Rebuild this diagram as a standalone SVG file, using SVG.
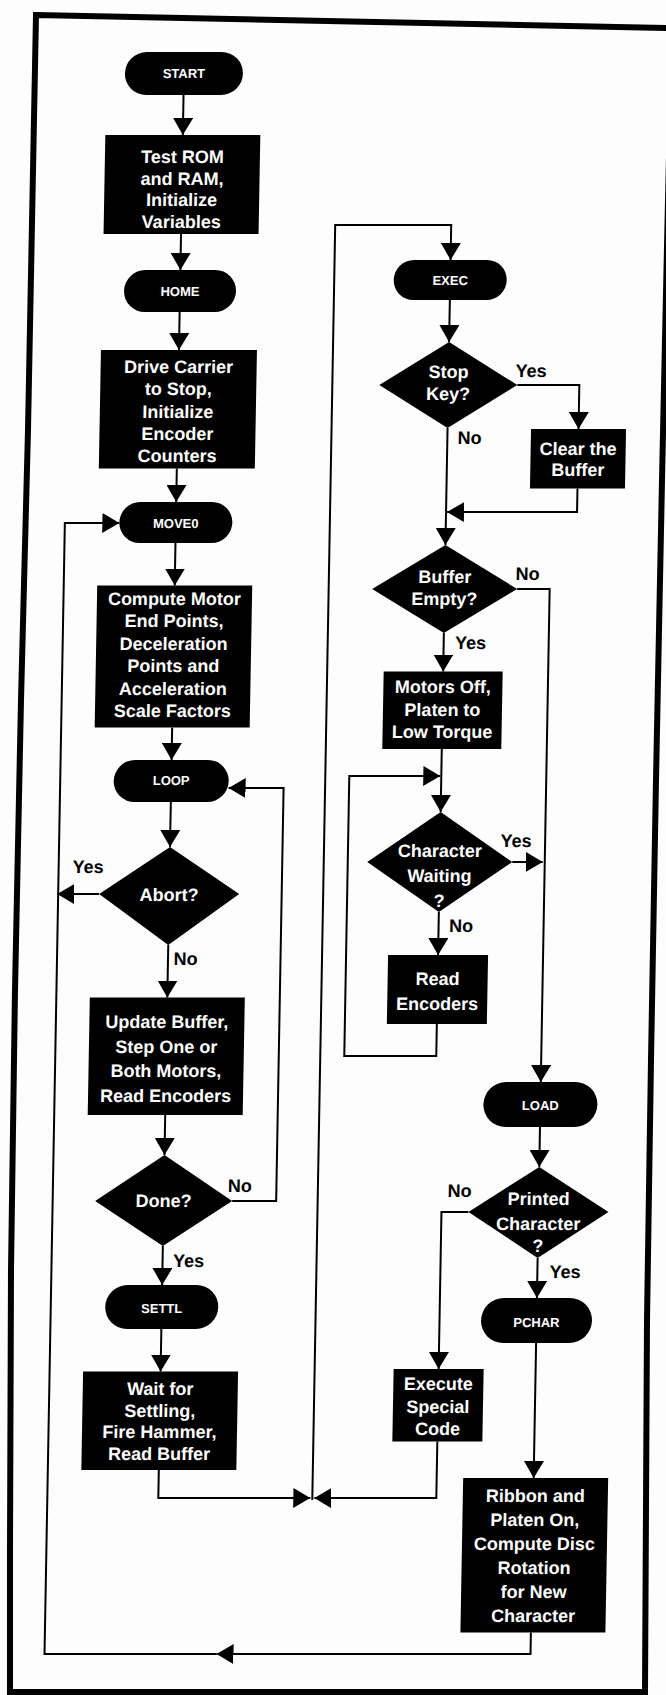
<svg xmlns="http://www.w3.org/2000/svg" width="666" height="1695" viewBox="0 0 666 1695">
<style>
.n rect, .n polygon { fill: #000; }
.n text { fill: #fff; font-family: "Liberation Sans", Arial, sans-serif; font-weight: bold; font-size: 18px; text-anchor: middle; }
.n text.t { font-size: 13px; }
.c path { fill: none; stroke: #000; stroke-width: 2; marker-end: url(#ah); }
.c path.p { marker-end: none; }
.lbl { fill: #000; font-family: "Liberation Sans", Arial, sans-serif; font-weight: bold; font-size: 18px; text-anchor: middle; }
.frame { fill: none; stroke: #000; stroke-width: 6; stroke-linejoin: miter; }
</style>
<defs>
<marker id="ah" markerWidth="18" markerHeight="20" refX="17" refY="10" orient="auto" markerUnits="userSpaceOnUse">
<path d="M0,0 L17,10 L0,20 z" fill="#000"/>
</marker>
</defs>
<rect x="0" y="0" width="666" height="1695" fill="#fdfdfd"/>
<path class="frame" d="M36,15 L672,28 L668,200 L662,480 L656,780 L651,1060 L647,1320 L645,1692 L10,1692 L10,1550 L11,1270 L15,990 L21,700 L28,430 Z"/>
<g transform="translate(15.25,0) skewX(-1.03)">
<g id="connectors" class="c">
<path d="M170,95 V135"/>
<path d="M170,234 V270"/>
<path d="M170,312 V350"/>
<path d="M170,468.5 V502"/>
<path d="M170,543 V585.5"/>
<path d="M170,727.5 V760"/>
<path d="M170,802 V847"/>
<path d="M170,945 V997.5"/>
<path d="M100,894 H58"/>
<path d="M170,1115 V1155"/>
<path d="M238.5,1201 H282.5 V788 H227.5"/>
<path d="M170,1246 V1285"/>
<path d="M170,1329 V1371.5"/>
<path d="M170,1470 V1498 H322"/>
<path d="M448,1441.5 V1498 H326"/>
<path d="M324,1500 V225 H440 V260"/>
<path d="M440,300 V342"/>
<path d="M509,385 H571 V429"/>
<path d="M571,488.5 V512 H441"/>
<path d="M440,428 V545"/>
<path d="M440,633 V671.5"/>
<path d="M512.5,589 H545 V1082"/>
<path d="M440,749 V812"/>
<path d="M440,1024 V1056 H348 V776 H439"/>
<path d="M512.5,862 H543"/>
<path d="M440,912 V955"/>
<path d="M545,1127 V1167"/>
<path d="M545,1258 V1298"/>
<path d="M475,1212 H448 V1369"/>
<path d="M545,1343 V1478"/>
<path d="M545,1632.5 V1654 H231"/>
<path d="M231,1654 H59 V523 H113.5"/>
<text class="lbl" x="88.5" y="873">Yes</text>
<text class="lbl" x="187.6" y="965">No</text>
<text class="lbl" x="246" y="1192">No</text>
<text class="lbl" x="196" y="1267">Yes</text>
<text class="lbl" x="522.6" y="377">Yes</text>
<text class="lbl" x="462.3" y="444">No</text>
<text class="lbl" x="522.7" y="580">No</text>
<text class="lbl" x="467" y="649">Yes</text>
<text class="lbl" x="516" y="847">Yes</text>
<text class="lbl" x="462.5" y="932">No</text>
<text class="lbl" x="465.8" y="1197">No</text>
<text class="lbl" x="572.8" y="1278">Yes</text>
</g>
<g id="start" class="n"><rect x="111" y="52" width="118" height="43" rx="21.5"/><text class="t" x="170" y="78">START</text></g>
<g id="init" class="n"><rect x="92.5" y="135" width="155" height="99"/><text x="170" y="163">Test ROM</text><text x="170" y="184.7">and RAM,</text><text x="170" y="206.4">Initialize</text><text x="170" y="228">Variables</text></g>
<g id="home" class="n"><rect x="114" y="270" width="112" height="42" rx="21"/><text class="t" x="170" y="296">HOME</text></g>
<g id="drive" class="n"><rect x="92" y="350" width="156" height="118.5"/><text x="170" y="373">Drive Carrier</text><text x="170" y="395">to Stop,</text><text x="170" y="418">Initialize</text><text x="170" y="440">Encoder</text><text x="170" y="462">Counters</text></g>
<g id="move0" class="n"><rect x="113.5" y="502" width="113" height="41" rx="20.5"/><text class="t" x="170" y="528">MOVE0</text></g>
<g id="compute" class="n"><rect x="92.5" y="585.5" width="155" height="142"/><text x="170" y="605">Compute Motor</text><text x="170" y="627.4">End Points,</text><text x="170" y="649.8">Deceleration</text><text x="170" y="672.2">Points and</text><text x="170" y="694.6">Acceleration</text><text x="170" y="717">Scale Factors</text></g>
<g id="loop" class="n"><rect x="112.5" y="760" width="115" height="42" rx="21"/><text class="t" x="170" y="785.5">LOOP</text></g>
<g id="abort" class="n"><polygon points="100,894 170,847 240,894 170,945"/><text x="170" y="901">Abort?</text></g>
<g id="update" class="n"><rect x="92.5" y="997.5" width="155" height="117.5"/><text x="170" y="1028">Update Buffer,</text><text x="170" y="1052.7">Step One or</text><text x="170" y="1077.3">Both Motors,</text><text x="170" y="1102">Read Encoders</text></g>
<g id="done" class="n"><polygon points="101.5,1201 170,1155 238.5,1201 170,1246"/><text x="170" y="1207">Done?</text></g>
<g id="settl" class="n"><rect x="113.5" y="1285" width="113" height="44" rx="22"/><text class="t" x="170" y="1313">SETTL</text></g>
<g id="wait" class="n"><rect x="92.5" y="1371.5" width="155" height="98.5"/><text x="170" y="1395">Wait for</text><text x="170" y="1417">Settling,</text><text x="170" y="1438">Fire Hammer,</text><text x="170" y="1460">Read Buffer</text></g>
<g id="exec" class="n"><rect x="383.5" y="260" width="113" height="40" rx="20"/><text class="t" x="440" y="285.5">EXEC</text></g>
<g id="stopkey" class="n"><polygon points="371,385 440,342 509,385 440,428"/><text x="440" y="378">Stop</text><text x="440" y="400">Key?</text></g>
<g id="clear" class="n"><rect x="523.5" y="429" width="95" height="59.5"/><text x="571" y="455">Clear the</text><text x="571" y="476">Buffer</text></g>
<g id="bufempty" class="n"><polygon points="367.5,589 440,545 512.5,589 440,633"/><text x="440" y="583">Buffer</text><text x="440" y="605">Empty?</text></g>
<g id="motorsoff" class="n"><rect x="380.5" y="671.5" width="119" height="77.5"/><text x="440" y="693">Motors Off,</text><text x="440" y="716">Platen to</text><text x="440" y="738">Low Torque</text></g>
<g id="charwait" class="n"><polygon points="367.5,862 440,812 512.5,862 440,912"/><text x="440" y="857">Character</text><text x="440" y="882">Waiting</text><text x="440" y="907">?</text></g>
<g id="readenc" class="n"><rect x="390" y="955" width="100" height="69"/><text x="440" y="985">Read</text><text x="440" y="1010">Encoders</text></g>
<g id="load" class="n"><rect x="488" y="1082" width="114" height="45" rx="22.5"/><text class="t" x="545" y="1110.5">LOAD</text></g>
<g id="printed" class="n"><polygon points="475,1212 545,1167 615,1212 545,1258"/><text x="545" y="1205">Printed</text><text x="545" y="1230">Character</text><text x="545" y="1252">?</text></g>
<g id="pchar" class="n"><rect x="489.5" y="1298" width="111" height="45" rx="22.5"/><text class="t" x="545" y="1327">PCHAR</text></g>
<g id="execspecial" class="n"><rect x="403" y="1369" width="90" height="72.5"/><text x="448" y="1390">Execute</text><text x="448" y="1413">Special</text><text x="448" y="1435">Code</text></g>
<g id="ribbon" class="n"><rect x="474.5" y="1478" width="145" height="154.5"/><text x="547" y="1502">Ribbon and</text><text x="547" y="1526">Platen On,</text><text x="547" y="1550">Compute Disc</text><text x="547" y="1574">Rotation</text><text x="547" y="1598">for New</text><text x="547" y="1622">Character</text></g>
</g>
</svg>
